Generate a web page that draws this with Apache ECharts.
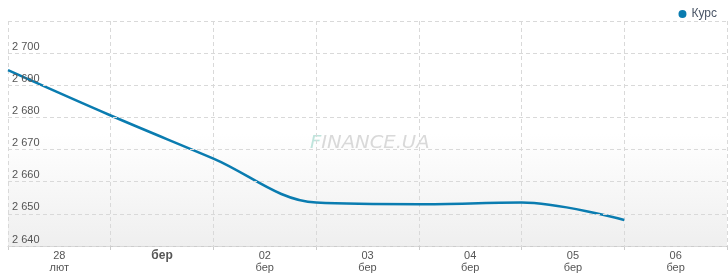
<!DOCTYPE html>
<html><head><meta charset="utf-8">
<script src="https://cdn.jsdelivr.net/npm/echarts@6/dist/echarts.min.js"></script>
<style>html,body{margin:0;padding:0;background:#fff}#c{width:728px;height:278px}</style>
</head><body><div id="c"></div>
<script>
const dayLabels = ['28\nлют', 'бер', '02\nбер', '03\nбер', '04\nбер', '05\nбер', '06\nбер'];
const dayPos = [0, 1, 2, 3, 4, 5, 6];
const rate = [2694.7, 2680.6, 2667.2, 2653.5, 2653.0, 2653.5, 2648.1];
const yTicks = [2640, 2650, 2660, 2670, 2680, 2690, 2700, 2710];
const seriesName = 'Курс';

const chart = echarts.init(document.getElementById('c'), null, {renderer: 'canvas'});
const FONT = '"Liberation Sans", Arial, sans-serif';
chart.setOption({
  animation: false,
  backgroundColor: '#fff',
  textStyle: {fontFamily: FONT},
  legend: {
    right: 6, top: 3, itemWidth: 8, itemHeight: 8, icon: 'circle', itemGap: 6,
    textStyle: {color: '#4a5566', fontSize: 12, fontFamily: FONT},
    data: [seriesName]
  },
  graphic: [{
    type: 'text', x: 310, y: 135, scaleX: 1.15, z: 0, silent: true,
    style: {
      text: '{f|F}{r|INANCE.UA}',
      rich: {
        f: {fill: '#bfe4dc', fontSize: 17, fontStyle: 'italic', fontFamily: '"DejaVu Sans"'},
        r: {fill: '#d9d9d9', fontSize: 17, fontStyle: 'italic', fontFamily: '"DejaVu Sans"'}
      }
    }
  }],
  grid: {
    left: 8, right: 1, top: 21, bottom: 32, show: true, borderWidth: 0,
    backgroundColor: new echarts.graphic.LinearGradient(0, 0, 0, 1, [
      {offset: 0, color: '#ffffff'}, {offset: 0.5, color: '#ffffff'}, {offset: 1, color: '#efefef'}
    ])
  },
  xAxis: [{
    type: 'value', min: 0, max: 7, interval: 1, position: 'bottom',
    axisLine: {show: true, lineStyle: {color: '#cccccc'}},
    axisTick: {show: true, length: 4, lineStyle: {color: '#cccccc'}},
    axisLabel: {show: false},
    splitLine: {show: true, lineStyle: {color: '#d9d9d9', type: [4, 3]}}
  }, {
    type: 'category', data: dayLabels, boundaryGap: true, position: 'bottom',
    axisLine: {show: false}, axisTick: {show: false}, splitLine: {show: false},
    axisLabel: {
      color: '#555', fontSize: 11, lineHeight: 12, margin: 4, fontFamily: FONT,
      formatter: (v, i) => i === 1 ? '{b|' + v + '}' : v,
      rich: {b: {fontWeight: 'bold', fontSize: 12, color: '#555', fontFamily: FONT}}
    }
  }],
  yAxis: {
    type: 'value', min: yTicks[0], max: yTicks[yTicks.length - 1], interval: 10,
    axisLine: {show: false}, axisTick: {show: false},
    splitLine: {show: true, lineStyle: {color: '#d9d9d9', type: [4, 3]}},
    axisLabel: {
      inside: true, margin: 4, color: '#555', fontSize: 11, verticalAlign: 'bottom',
      padding: [0, 0, 1, 0], showMaxLabel: false, fontFamily: FONT,
      formatter: v => String(v).replace(/\B(?=(\d{3})+(?!\d))/g, ' ')
    },
    z: 5
  },
  series: [{
    name: seriesName, type: 'line', xAxisIndex: 0, smooth: 0.35,
    showSymbol: false, symbol: 'circle',
    itemStyle: {color: '#0a7cb0'},
    lineStyle: {color: '#0a7cb0', width: 2.5},
    data: dayPos.map((d, i) => [d, rate[i]])
  }]
});
</script></body></html>
